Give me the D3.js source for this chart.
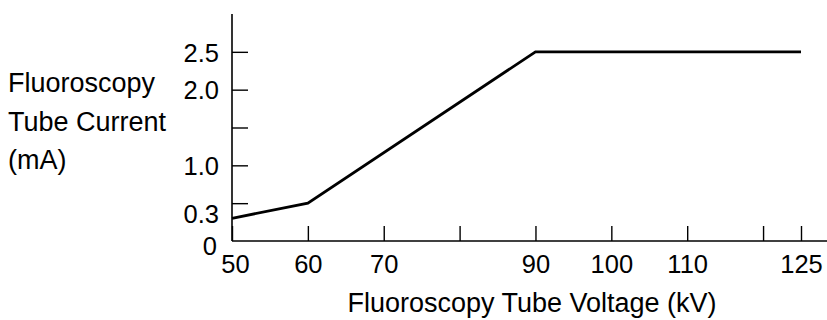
<!DOCTYPE html>
<html>
<head>
<meta charset="utf-8">
<script src="https://cdn.jsdelivr.net/npm/d3@7/dist/d3.min.js"></script>
<style>
  html, body { margin: 0; padding: 0; background: #fff; }
  svg { display: block; }
  text { font-family: "Liberation Sans", Arial, Helvetica, sans-serif; fill: #000; }
</style>
</head>
<body>
<svg id="chart" width="827" height="320"></svg>
<script>
// Fluoroscopy tube current as a function of tube voltage
const voltage = [50, 60, 90, 125];      // kV
const current = [0.3, 0.5, 2.5, 2.5];   // mA

const xTicks = [50, 60, 70, 80, 90, 100, 110, 120, 125];
const xTickLabels = ["50", "60", "70", "", "90", "100", "110", "", "125"];
const yTicks = [0.5, 1.0, 1.5, 2.0, 2.5];
const yTickLabels = ["", "1.0", "", "2.0", "2.5"];
const yExtraLabels = [{ v: 0.3, t: "0.3" }, { v: 0, t: "0" }];

const yTitle = ["Fluoroscopy", "Tube Current", "(mA)"];
const xTitle = "Fluoroscopy Tube Voltage (kV)";

const tickFont = "25.5px";
const titleFont = "27px";

const svg = d3.select("#chart");
const W = 827;

const x = d3.scaleLinear().domain([50, 125]).range([232, 801]);
const y = d3.scaleLinear().domain([0, 3]).range([241, 14]);

// Axis lines
svg.append("line")
  .attr("x1", x(50)).attr("x2", W)
  .attr("y1", y(0)).attr("y2", y(0))
  .attr("stroke", "#000").attr("stroke-width", 1.6);
svg.append("line")
  .attr("x1", x(50)).attr("x2", x(50))
  .attr("y1", y(0)).attr("y2", y(3))
  .attr("stroke", "#000").attr("stroke-width", 1.6);

// X ticks point up into the plot
const xAxis = d3.axisBottom(x)
  .tickValues(xTicks)
  .tickSizeInner(-15)
  .tickSizeOuter(0)
  .tickFormat((d, i) => xTickLabels[i]);
const gx = svg.append("g")
  .attr("transform", `translate(0,${y(0)})`)
  .call(xAxis);
gx.select(".domain").remove();
gx.selectAll(".tick line").attr("stroke", "#000").attr("stroke-width", 1.4);
gx.selectAll(".tick text")
  .attr("y", 32).attr("dy", 0)
  .style("font-size", tickFont)
  .attr("font-family", null);
// nudge the first label off the vertical axis
gx.selectAll(".tick text").filter(d => d === 50).attr("x", 3);

// Y ticks point right into the plot
const yAxis = d3.axisLeft(y)
  .tickValues(yTicks)
  .tickSizeInner(-16)
  .tickSizeOuter(0)
  .tickFormat((d, i) => yTickLabels[i]);
const gy = svg.append("g")
  .attr("transform", `translate(${x(50)},0)`)
  .call(yAxis);
gy.select(".domain").remove();
gy.selectAll(".tick line").attr("stroke", "#000").attr("stroke-width", 1.4);
gy.selectAll(".tick text")
  .attr("x", -13).attr("dy", "0.36em")
  .style("font-size", tickFont)
  .attr("font-family", null);

// Extra labels for 0.3 and 0
svg.append("g").selectAll("text")
  .data(yExtraLabels)
  .join("text")
  .attr("x", d => d.v === 0 ? x(50) - 15 : x(50) - 13)
  .attr("y", d => d.v === 0 ? y(d.v) + 5 : y(d.v) - 4)
  .attr("text-anchor", "end")
  .attr("dy", "0.36em")
  .style("font-size", tickFont)
  .text(d => d.t);

// Data line
const pts = voltage.map((v, i) => [v, current[i]]);
svg.append("path")
  .datum(pts)
  .attr("fill", "none")
  .attr("stroke", "#000")
  .attr("stroke-width", 2.8)
  .attr("stroke-linejoin", "miter")
  .attr("d", d3.line().x(d => x(d[0])).y(d => y(d[1])));

// Y title (three lines)
svg.append("g").selectAll("text")
  .data(yTitle)
  .join("text")
  .attr("x", 8)
  .attr("y", (d, i) => 92 + i * 38.5)
  .style("font-size", titleFont)
  .text(d => d);

// X title
svg.append("text")
  .attr("x", 532)
  .attr("y", 312)
  .attr("text-anchor", "middle")
  .style("font-size", titleFont)
  .text(xTitle);
</script>
</body>
</html>
